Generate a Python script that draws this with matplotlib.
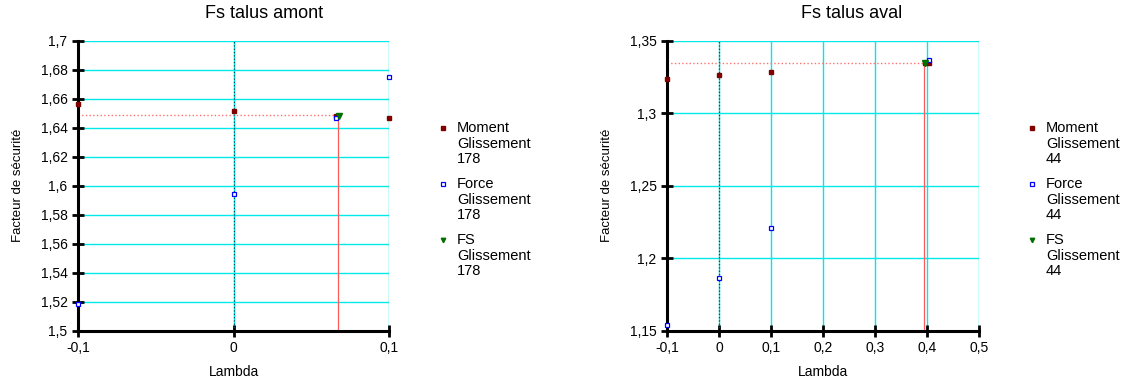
import matplotlib
matplotlib.use("Agg")
import matplotlib.pyplot as plt
from matplotlib.lines import Line2D
from matplotlib.ticker import FuncFormatter

plt.rcParams['font.family'] = ['Liberation Sans', 'DejaVu Sans']

# Fs talus amont (glissement 178)
amont_moment_x = [-0.1, 0.0, 0.0657, 0.1]
amont_moment_y = [1.6566, 1.6516, 1.6481, 1.6467]
amont_force_x = [-0.1, 0.0, 0.0657, 0.1]
amont_force_y = [1.5188, 1.5946, 1.6467, 1.6747]
amont_fs_x = [0.0679]
amont_fs_y = [1.6482]
amont_crit = [0.0675, 1.6486]
amont_yticks = [1.5, 1.52, 1.54, 1.56, 1.58, 1.6, 1.62, 1.64, 1.66, 1.68, 1.7]
amont_xticks = [-0.1, 0.0, 0.1]

# Fs talus aval (glissement 44)
aval_moment_x = [-0.1, 0.0, 0.1, 0.397, 0.403]
aval_moment_y = [1.3236, 1.3261, 1.3284, 1.3346, 1.3346]
aval_force_x = [-0.1, 0.0, 0.1, 0.403]
aval_force_y = [1.1541, 1.1865, 1.2212, 1.3367]
aval_fs_x = [0.397]
aval_fs_y = [1.3346]
aval_crit = [0.395, 1.3348]
aval_yticks = [1.15, 1.2, 1.25, 1.3, 1.35]
aval_xticks = [-0.1, 0.0, 0.1, 0.2, 0.3, 0.4, 0.5]

series_names = ["Moment", "Force", "FS"]

W, H = 1136, 385

moment_style = dict(marker="s", color="#800000", ms=3.5, ls="none")
force_style = dict(marker="s", mfc="white", mec="#0000ff", mew=0.9, ms=3.5, ls="none")
fs_style = dict(marker="v", color="#007000", ms=4, ls="none")


def fr_fmt(v, pos):
    s = ("%.2f" % v).rstrip("0").rstrip(".")
    if s == "-0":
        s = "0"
    return s.replace(".", ",")


def draw(ax, mx, my, fx, fy, sx, sy, crit, xticks, yticks):
    ax.set_xlim(xticks[0], xticks[-1])
    ax.set_ylim(yticks[0], yticks[-1])
    ax.set_xticks(xticks)
    ax.set_yticks(yticks)
    ax.xaxis.set_major_formatter(FuncFormatter(fr_fmt))
    ax.yaxis.set_major_formatter(FuncFormatter(fr_fmt))
    ax.grid(True, color="#00e8e8", lw=1.0)
    ax.set_axisbelow(True)
    for s in ["top", "right"]:
        ax.spines[s].set_visible(False)
    for s in ["left", "bottom"]:
        ax.spines[s].set_linewidth(2.2)
    ax.tick_params(direction="inout", length=9, width=2, labelsize=10, pad=3)
    ax.axvline(0, color="#1a4040", lw=0.9, ls=":", zorder=2)
    ax.plot([xticks[0], crit[0]], [crit[1], crit[1]], color="#ff7070", lw=1.0, ls=":", zorder=2)
    ax.plot([crit[0], crit[0]], [yticks[0], crit[1]], color="#ff5a5a", lw=0.9, zorder=2)
    ax.plot(mx, my, clip_on=False, zorder=4, **moment_style)
    ax.plot(fx, fy, clip_on=False, zorder=4, **force_style)
    ax.plot(sx, sy, clip_on=False, zorder=5, **fs_style)
    ax.set_xlabel("Lambda", fontsize=10, labelpad=7)
    ax.set_ylabel("Facteur de sécurité", fontsize=9.5, labelpad=12)


def legend(fig, x_marker, glis):
    styles = [moment_style, force_style, fs_style]
    for i, (name, st) in enumerate(zip(series_names, styles)):
        y0 = 128 + 56 * i
        st = dict(st, ms=st["ms"] - 0.8)
        fig.add_artist(Line2D([x_marker / W], [1 - y0 / H], transform=fig.transFigure, **st))
        for k, line in enumerate([name, "Glissement", glis]):
            fig.text((x_marker + 14) / W, 1 - (y0 + 15.5 * k) / H, line,
                     ha="left", va="center", fontsize=10.5)


fig = plt.figure(figsize=(11.36, 3.85), dpi=100)
ax1 = fig.add_axes([78 / W, 1 - 331 / H, 311 / W, 290.5 / H])
ax2 = fig.add_axes([667 / W, 1 - 331 / H, 312 / W, 290.5 / H])

draw(ax1, amont_moment_x, amont_moment_y, amont_force_x, amont_force_y,
     amont_fs_x, amont_fs_y, amont_crit, amont_xticks, amont_yticks)
draw(ax2, aval_moment_x, aval_moment_y, aval_force_x, aval_force_y,
     aval_fs_x, aval_fs_y, aval_crit, aval_xticks, aval_yticks)

legend(fig, 443, "178")
legend(fig, 1032, "44")

fig.text(264 / W, 1 - 14 / H, "Fs talus amont", ha="center", va="center", fontsize=13)
fig.text(852 / W, 1 - 14 / H, "Fs talus aval", ha="center", va="center", fontsize=13)

fig.savefig("out.png", dpi=100)
